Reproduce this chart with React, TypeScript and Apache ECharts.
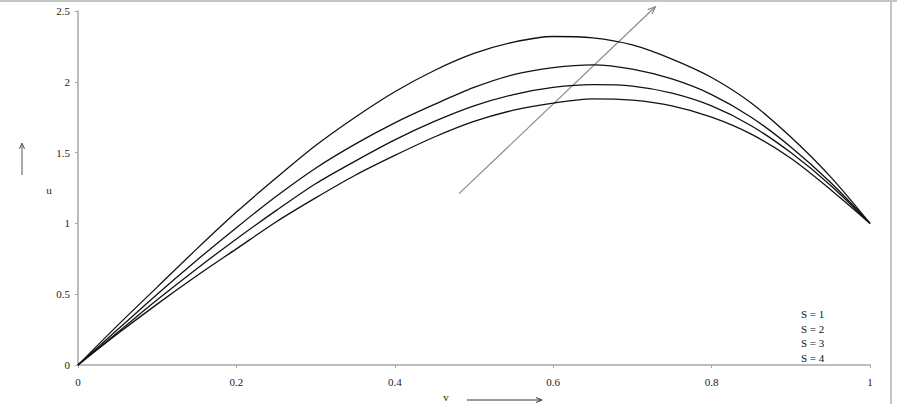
import React, { useEffect, useRef } from "react";
import * as echarts from "echarts";

const vValues = [0, 0.05, 0.1, 0.15, 0.2, 0.25, 0.3, 0.35, 0.4, 0.45, 0.5, 0.55, 0.6, 0.65, 0.7, 0.75, 0.8, 0.85, 0.9, 0.95, 1];
const uS1 = [0, 0.22, 0.43, 0.63, 0.82, 1.01, 1.18, 1.34, 1.48, 1.61, 1.72, 1.8, 1.85, 1.88, 1.87, 1.83, 1.75, 1.63, 1.46, 1.24, 1.0];
const uS2 = [0, 0.23, 0.46, 0.68, 0.89, 1.09, 1.28, 1.44, 1.59, 1.72, 1.83, 1.91, 1.96, 1.98, 1.97, 1.92, 1.83, 1.69, 1.5, 1.27, 1.0];
const uS3 = [0, 0.25, 0.5, 0.74, 0.97, 1.19, 1.39, 1.56, 1.71, 1.84, 1.96, 2.05, 2.1, 2.12, 2.09, 2.02, 1.91, 1.75, 1.54, 1.29, 1.0];
const uS4 = [0, 0.28, 0.55, 0.82, 1.08, 1.32, 1.55, 1.75, 1.93, 2.08, 2.2, 2.28, 2.32, 2.31, 2.26, 2.16, 2.03, 1.85, 1.61, 1.33, 1.0];
const seriesNames = ["S = 1", "S = 2", "S = 3", "S = 4"];
const arrowStart = [0.481, 1.21];
const arrowEnd = [0.729, 2.53];

const FONT = "Liberation Serif";

export default function App() {
  const ref = useRef<HTMLDivElement>(null);
  useEffect(() => {
    if (!ref.current) return;
    const chart = echarts.init(ref.current, null, { renderer: "svg" });
    const all = [uS1, uS2, uS3, uS4];
    const series = all.map((arr, i) => ({
      name: seriesNames[i],
      type: "line",
      data: vValues.map((v, j) => [v, arr[j]]),
      smooth: 0.3,
      showSymbol: false,
      symbol: "none",
      lineStyle: { color: "#111", width: 1.3 },
      itemStyle: { color: "#111" },
      clip: false,
    }));
    chart.setOption({
      animation: false,
      grid: { left: 78, right: 27, top: 11, bottom: 39 },
      legend: {
        data: seriesNames,
        orient: "vertical",
        left: 791,
        top: 302,
        icon: "rect",
        itemWidth: 0,
        itemHeight: 0,
        itemGap: 0,
        textStyle: { fontFamily: FONT, fontSize: 11, color: "#111", lineHeight: 14.5 },
      },
      xAxis: {
        type: "value",
        min: 0,
        max: 1,
        interval: 0.2,
        splitLine: { show: false },
        axisLine: { lineStyle: { color: "#a6a6a6", width: 1.5 } },
        axisTick: { length: 3, lineStyle: { color: "#a6a6a6" } },
        axisLabel: { fontFamily: FONT, fontSize: 11, color: "#222", margin: 11 },
      },
      yAxis: {
        type: "value",
        min: 0,
        max: 2.5,
        interval: 0.5,
        splitLine: { show: false },
        axisLine: { show: true, lineStyle: { color: "#a6a6a6", width: 1.5 } },
        axisTick: { show: true, length: 3, lineStyle: { color: "#a6a6a6" } },
        axisLabel: { fontFamily: FONT, fontSize: 11, color: "#222", margin: 8 },
      },
      series,
    });
    const p0 = chart.convertToPixel({ xAxisIndex: 0, yAxisIndex: 0 }, arrowStart) as number[];
    const p1 = chart.convertToPixel({ xAxisIndex: 0, yAxisIndex: 0 }, arrowEnd) as number[];
    const ang = Math.atan2(p1[1] - p0[1], p1[0] - p0[0]);
    const hl = 8;
    const spread = 0.4;
    const h1 = [p1[0] - hl * Math.cos(ang - spread), p1[1] - hl * Math.sin(ang - spread)];
    const h2 = [p1[0] - hl * Math.cos(ang + spread), p1[1] - hl * Math.sin(ang + spread)];
    chart.setOption({
      graphic: [
        { type: "line", shape: { x1: 0, y1: 1, x2: 897, y2: 1 }, style: { stroke: "#c4c4c4", lineWidth: 2 } },
        { type: "line", shape: { x1: 891, y1: 0, x2: 891, y2: 404 }, style: { stroke: "#c4c4c4", lineWidth: 2 } },
        { type: "line", shape: { x1: p0[0], y1: p0[1], x2: p1[0], y2: p1[1] }, style: { stroke: "#8a8a8a", lineWidth: 1.2 } },
        { type: "polyline", shape: { points: [h1, p1, h2] }, style: { stroke: "#8a8a8a", lineWidth: 1.2, fill: "none" } },
        { type: "text", x: 49, y: 190, style: { text: "u", fontFamily: FONT, fontSize: 11, fill: "#222", textAlign: "center", textVerticalAlign: "middle" } },
        { type: "line", shape: { x1: 22, y1: 175, x2: 22, y2: 144 }, style: { stroke: "#555", lineWidth: 1 } },
        { type: "polyline", shape: { points: [[19.5, 149], [22, 143], [24.5, 149]] }, style: { stroke: "#555", lineWidth: 1, fill: "none" } },
        { type: "text", x: 446, y: 397, style: { text: "v", fontFamily: FONT, fontSize: 11, fill: "#222", textAlign: "center", textVerticalAlign: "middle" } },
        { type: "line", shape: { x1: 467, y1: 400, x2: 541, y2: 400 }, style: { stroke: "#333", lineWidth: 1 } },
        { type: "polyline", shape: { points: [[536, 397.5], [542, 400], [536, 402.5]] }, style: { stroke: "#333", lineWidth: 1, fill: "none" } },
      ],
    });
    return () => chart.dispose();
  }, []);
  return <div ref={ref} style={{ position: "fixed", left: 0, top: 0, width: 897, height: 404, background: "#fff" }} />;
}
